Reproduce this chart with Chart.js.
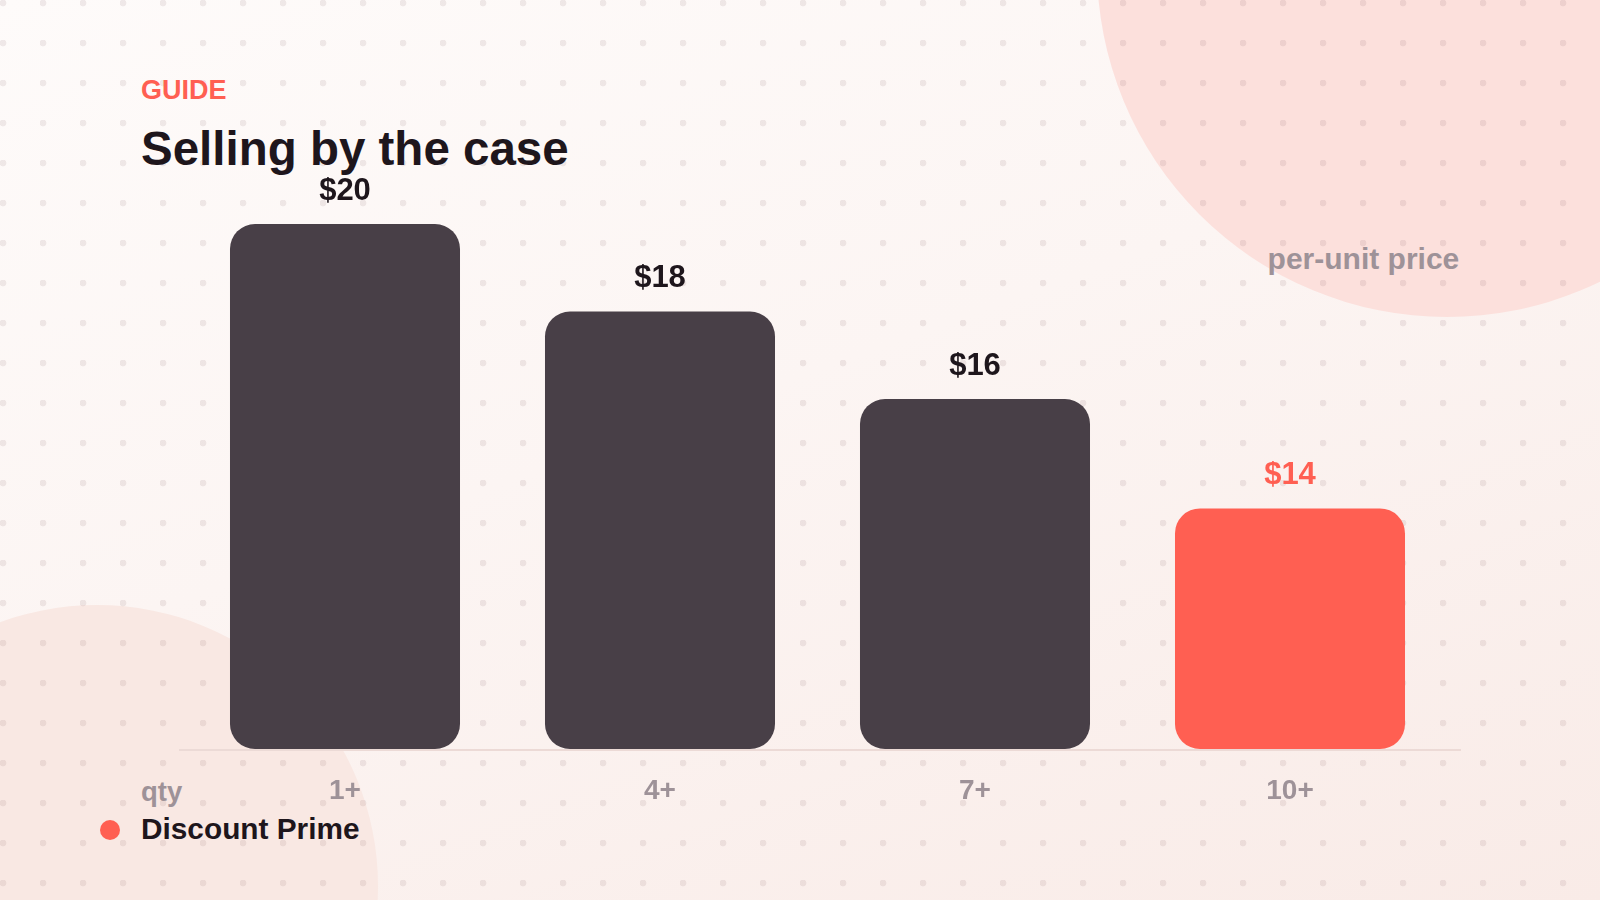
<!DOCTYPE html>
<html>
<head>
<meta charset="utf-8">
<script src="https://cdn.jsdelivr.net/npm/chart.js@4.4.1/dist/chart.umd.min.js"></script>
<style>
  html, body { margin: 0; padding: 0; }
  body {
    width: 1600px; height: 900px; position: relative; overflow: hidden;
    background: linear-gradient(160deg, #fefbfa 0%, #fcf5f3 45%, #f9ebe7 100%);
    font-family: "Liberation Sans", Arial, Helvetica, sans-serif;
  }
  .blob { position: absolute; border-radius: 50%; }
  #blobTR { left: 1097px; top: -383px; width: 700px; height: 700px; background: #fce0dc; }
  #blobBL { left: -184px; top: 605px; width: 562px; height: 562px; background: #f9e8e3; }
  #dots {
    position: absolute; left: 0; top: 0; width: 1600px; height: 900px;
    background-image: radial-gradient(circle at 3px 3px, rgba(120,80,85,0.11) 3px, rgba(120,80,85,0) 3.7px);
    background-size: 40px 40px;
  }
  .txt { position: absolute; line-height: 1; white-space: nowrap; font-weight: 700; }
  #kicker { left: 141px; top: 77px; font-size: 27px; color: #ff5f52; }
  #title { left: 141px; top: 125px; font-size: 47.5px; color: #1e161c; }
  #unit { right: 140.7px; top: 243.9px; font-size: 30px; color: #9e9298; }
  #qty { left: 141px; top: 777.5px; font-size: 27.5px; color: #9e9298; }
  #legend { left: 141px; top: 814.2px; font-size: 29.8px; color: #1e161c; }
  #legendDot { position: absolute; left: 100px; top: 820px; width: 20px; height: 20px; border-radius: 50%; background: #ff5f52; }
  #chartWrap { position: absolute; left: 0; top: 0; width: 1600px; height: 900px; }
</style>
</head>
<body>
<div class="blob" id="blobTR"></div>
<div class="blob" id="blobBL"></div>
<div id="dots"></div>
<div class="txt" id="kicker">GUIDE</div>
<div class="txt" id="title">Selling by the case</div>
<div class="txt" id="unit">per-unit price</div>
<div class="txt" id="qty">qty</div>
<div id="legendDot"></div>
<div class="txt" id="legend">Discount Prime</div>
<div id="chartWrap"><canvas id="c" width="1600" height="900"></canvas></div>
<script>
const categories = ["1+", "4+", "7+", "10+"];
const prices = [20, 18, 16, 13.5];
const highlightIndex = [false, false, false, true];
const yMin = 8;
const yMax = 22;

const DARK = "#483f47";
const CORAL = "#ff5f52";
const LABEL_DARK = "#1e161c";

const valueLabels = {
  id: "valueLabels",
  afterDatasetsDraw(chart) {
    const ctx = chart.ctx;
    const meta = chart.getDatasetMeta(0);
    ctx.save();
    ctx.font = "700 31px 'Liberation Sans', Arial, sans-serif";
    ctx.textAlign = "center";
    ctx.textBaseline = "alphabetic";
    meta.data.forEach((bar, i) => {
      ctx.fillStyle = highlightIndex[i] ? CORAL : LABEL_DARK;
      ctx.fillText("$" + Math.round(prices[i]), bar.x, bar.y - 24.5);
    });
    ctx.restore();
  }
};

const baseLine = {
  id: "baseLine",
  beforeDatasetsDraw(chart) {
    const { ctx, chartArea } = chart;
    ctx.save();
    ctx.strokeStyle = "#ecdad6";
    ctx.lineWidth = 2;
    ctx.beginPath();
    ctx.moveTo(chartArea.left - 8.5, chartArea.bottom + 1);
    ctx.lineTo(chartArea.right + 13.5, chartArea.bottom + 1);
    ctx.stroke();
    ctx.restore();
  }
};

new Chart(document.getElementById("c"), {
  type: "bar",
  data: {
    labels: categories,
    datasets: [{
      data: prices,
      base: yMin,
      backgroundColor: highlightIndex.map(h => h ? CORAL : DARK),
      borderRadius: 25,
      borderSkipped: false,
      barPercentage: 0.7302,
      categoryPercentage: 1
    }]
  },
  options: {
    responsive: false,
    animation: false,
    events: [],
    layout: { padding: { left: 187.5, right: 152.5, top: 136.5, bottom: 0 } },
    plugins: { legend: { display: false }, tooltip: { enabled: false }, title: { display: false } },
    scales: {
      x: {
        grid: { display: false, drawTicks: false },
        border: { display: false },
        ticks: {
          color: "#9e9298",
          font: { family: "'Liberation Sans', Arial, sans-serif", size: 28, weight: "700" },
          padding: 25.5
        },
        afterFit(scale) { scale.height = 151; }
      },
      y: {
        display: false,
        min: yMin,
        max: yMax
      }
    }
  },
  plugins: [baseLine, valueLabels]
});
</script>
</body>
</html>
